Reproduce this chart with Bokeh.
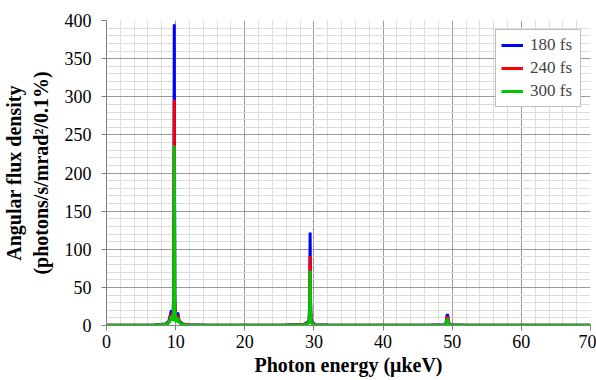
from bokeh.plotting import figure
from bokeh.models import Range1d, FixedTicker, Legend
from bokeh.embed import file_html
from bokeh.resources import INLINE

# Photon energy sample points (keV)
energy = [0, 4, 7, 8.5, 9.0, 9.4, 9.6, 9.72, 9.8, 9.88, 10.0, 10.15, 10.3, 10.5, 11.0, 12.0, 14,
          20, 26, 28.5, 29.1, 29.3, 29.38, 29.45, 29.52, 29.6, 29.75, 30.3, 32,
          40, 47, 48.9, 49.1, 49.22, 49.3, 49.38, 49.5, 49.8, 52, 60, 70]

flux_180 = [0.3, 0.4, 0.8, 2.0, 5.0, 20, 9, 40, 395, 40, 9, 8, 17, 6, 2.0, 1.0, 0.5,
            0.4, 0.5, 1.5, 4.0, 7, 30, 122, 30, 7, 4, 1.0, 0.5,
            0.4, 0.5, 1.0, 3, 12, 15, 12, 3, 1.0, 0.4, 0.3, 0.3]
flux_240 = [0.3, 0.4, 0.7, 1.6, 4.0, 15, 7, 30, 296, 30, 7, 6, 13, 5, 1.6, 0.8, 0.4,
            0.4, 0.4, 1.2, 3.0, 5, 22, 91, 22, 5, 3, 0.8, 0.4,
            0.4, 0.4, 0.8, 2.5, 9, 12, 9, 2.5, 0.8, 0.4, 0.3, 0.3]
flux_300 = [0.3, 0.3, 0.6, 1.3, 3.2, 12, 6, 24, 236, 24, 6, 5, 10, 4, 1.3, 0.7, 0.4,
            0.3, 0.4, 1.0, 2.4, 4, 18, 72, 18, 4, 2.4, 0.7, 0.4,
            0.3, 0.4, 0.7, 2.0, 7, 9, 7, 2.0, 0.7, 0.3, 0.3, 0.3]

series_labels = ["180 fs", "240 fs", "300 fs"]
series_colors = ["#0000FF", "#FF0000", "#00C800"]

x_ticks = [0, 10, 20, 30, 40, 50, 60, 70]
y_ticks = [0, 50, 100, 150, 200, 250, 300, 350, 400]

FONT = "Liberation Serif"

p = figure(width=596, height=380, output_backend="svg", toolbar_location=None,
           x_range=Range1d(0, 70), y_range=Range1d(0, 400),
           min_border_left=105, min_border_right=6, min_border_top=20, min_border_bottom=55)
p.outline_line_color = None
p.background_fill_color = "white"
p.border_fill_color = "white"

renderers = []
for ys, lab, col in zip([flux_180, flux_240, flux_300], series_labels, series_colors):
    r = p.line(energy, ys, line_color=col, line_width=3)
    renderers.append((lab, [r]))

legend = Legend(items=renderers, location="top_right")
legend.label_text_font = FONT
legend.label_text_font_size = "17px"
legend.glyph_width = 22
legend.glyph_height = 16
legend.label_width = 45
legend.spacing = 3
legend.padding = 5
legend.margin = 9
legend.label_standoff = 7
legend.label_height = 16
legend.border_line_color = "#808080"
legend.border_line_width = 1
legend.background_fill_alpha = 1.0
p.add_layout(legend, "center")

p.xaxis.ticker = FixedTicker(ticks=x_ticks, minor_ticks=list(range(0, 71, 2)))
p.yaxis.ticker = FixedTicker(ticks=y_ticks, minor_ticks=list(range(0, 401, 10)))

for ax in (p.xaxis, p.yaxis):
    ax.axis_line_color = "#808080"
    ax.major_tick_line_color = "#808080"
    ax.major_tick_out = 5
    ax.major_tick_in = 0
    ax.minor_tick_out = 0
    ax.minor_tick_in = 0
    ax.major_label_text_font = FONT
    ax.major_label_text_font_size = "18px"
    ax.major_label_text_color = "black"
    ax.axis_label_text_font = FONT
    ax.axis_label_text_font_style = "bold"
    ax.axis_label_text_font_size = "20px"
    ax.axis_label_text_color = "black"

p.xaxis.axis_label = "Photon energy (\u03bckeV)"
p.xaxis.axis_label_standoff = 3
p.xaxis.major_label_standoff = 4
p.yaxis.axis_label = "Angular flux density\n(photons/s/mrad\u00b2/0.1%)"
p.yaxis.axis_label_standoff = 10
p.yaxis.major_label_standoff = 10

p.xgrid.grid_line_color = "#9a9a9a"
p.ygrid.grid_line_color = "#9a9a9a"
p.xgrid.minor_grid_line_color = "#dcdcdc"
p.ygrid.minor_grid_line_color = "#dcdcdc"

open("out.html", "w").write(file_html(p, INLINE))
